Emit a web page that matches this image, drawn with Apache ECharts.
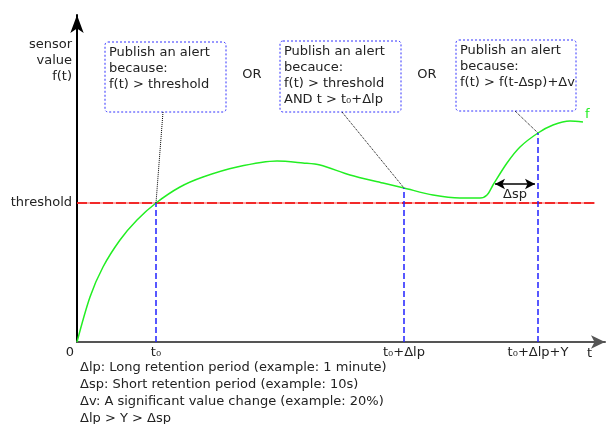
<!DOCTYPE html>
<html>
<head>
<meta charset="utf-8">
<script src="https://cdn.jsdelivr.net/npm/echarts@6/dist/echarts.min.js"></script>
<style>
  html, body { margin: 0; padding: 0; background: #fff; }
  #main { width: 610px; height: 424px; }
</style>
</head>
<body>
<div id="main"></div>
<script>
// curve f(t) (units: 1 = 1px from the origin)
var curveT = [0, 13, 26, 43, 60, 79, 103, 126, 160, 200, 226, 243, 273, 306, 327, 356, 383, 403, 410, 416, 430, 443, 461, 476, 493, 506];
var curveF = [0, 45, 75, 102, 122, 139, 155, 165, 175, 181, 179, 177, 167, 159, 154, 147, 144, 144, 147, 157, 179, 195, 209, 217, 221, 220];
var thresholdValue = 139;
var thresholdEnd = 518;
var markTimes = [79, 327, 461];
var tickLabels = ['t₀', 't₀+Δlp', 't₀+Δlp+Y'];
var deltaSp = [418, 458, 158];
var notes = [
    'Δlp: Long retention period (example: 1 minute)',
    'Δsp: Short retention period (example: 10s)',
    'Δv: A significant value change (example: 20%)',
    'Δlp > Y > Δsp'
];

var myChart = echarts.init(document.getElementById('main'));
var font = 'DejaVu Sans';
var fs = 13;
var txt = '#222';

function valueAt(t) {
    return curveF[curveT.indexOf(t)];
}

// 注释框: 左上角、宽高、文字
function box(x, y, w, h, text) {
    return {
        type: 'group',
        children: [
            {
                type: 'rect',
                shape: { x: x, y: y, width: w, height: h, r: 3 },
                style: { fill: '#fff', stroke: '#3333ff', lineWidth: 1, lineDash: [2, 2] }
            },
            {
                type: 'text',
                x: x + 4,
                y: y + 3,
                style: { text: text, font: fs + 'px "' + font + '"', fill: txt, lineHeight: 16 }
            }
        ]
    };
}

var option = {
    animation: false,
    grid: { left: 77, right: 5, top: 15, bottom: 82 },
    xAxis: {
        type: 'value',
        min: 0,
        max: 528,
        splitLine: { show: false },
        axisTick: { show: false },
        axisLine: {
            lineStyle: { color: '#555', width: 2 },
            symbol: ['none', 'arrow'],
            symbolSize: [10, 14]
        },
        axisLabel: {
            customValues: [0].concat(markTimes),
            margin: 4,
            fontFamily: font,
            fontSize: fs,
            color: txt,
            formatter: function (v) {
                if (v === 0) return '{z|0}';
                return tickLabels[markTimes.indexOf(v)];
            },
            rich: { z: { padding: [0, 14, 0, 0], fontFamily: font, fontSize: fs, color: txt } }
        },
        name: 't',
        nameLocation: 'end',
        nameGap: -18,
        nameTextStyle: { fontFamily: font, fontSize: fs, color: txt, verticalAlign: 'top', padding: [5, 0, 0, 0] }
    },
    yAxis: {
        type: 'value',
        min: 0,
        max: 327,
        splitLine: { show: false },
        axisTick: { show: false },
        axisLine: {
            lineStyle: { color: '#000', width: 2 },
            symbol: ['none', 'arrow'],
            symbolSize: [10, 18]
        },
        axisLabel: {
            customValues: [thresholdValue],
            margin: 5,
            fontFamily: font,
            fontSize: fs,
            color: txt,
            formatter: function () { return 'threshold'; }
        },
        name: 'sensor\nvalue\nf(t)',
        nameLocation: 'end',
        nameGap: -22,
        nameTextStyle: {
            fontFamily: font, fontSize: fs, color: txt,
            align: 'right', verticalAlign: 'top', lineHeight: 16,
            padding: [0, 5, 0, 0]
        }
    },
    graphic: [
        box(105, 42, 121, 70, 'Publish an alert\nbecause:\nf(t) > threshold'),
        box(280, 41, 121, 71, 'Publish an alert\nbecauce:\nf(t) > threshold\nAND t > t₀+Δlp'),
        box(456, 40, 120, 71, 'Publish an alert\nbecause:\nf(t) > f(t-Δsp)+Δv'),
        { type: 'text', x: 252, y: 75, style: { text: 'OR', font: fs + 'px "' + font + '"', fill: txt, align: 'center', verticalAlign: 'middle' } },
        { type: 'text', x: 427, y: 75, style: { text: 'OR', font: fs + 'px "' + font + '"', fill: txt, align: 'center', verticalAlign: 'middle' } },
        { type: 'text', x: 80, y: 359, style: { text: notes.join('\n'), font: fs + 'px "' + font + '"', fill: txt, lineHeight: 17 } }
    ],
    series: [
        {
            name: 'threshold',
            type: 'line',
            data: [[0, thresholdValue], [thresholdEnd, thresholdValue]],
            symbol: 'none',
            silent: true,
            lineStyle: { color: '#ff8888', width: 1.5 }
        },
        {
            name: 'threshold-dash',
            type: 'line',
            data: [[0, thresholdValue], [thresholdEnd, thresholdValue]],
            symbol: 'none',
            silent: true,
            lineStyle: { color: '#ee0000', width: 1.5, type: [10, 3] }
        },
        {
            name: 'f',
            type: 'line',
            data: curveT.map(function (t, i) { return [t, curveF[i]]; }),
            smooth: 0.3,
            symbol: 'none',
            silent: true,
            lineStyle: { color: '#22ee22', width: 1.5 },
            endLabel: {
                show: true,
                formatter: 'f',
                color: '#22ee22',
                fontFamily: font,
                fontSize: fs,
                distance: 2,
                offset: [0, -7]
            },
            z: 3
        },
        {
            name: 'times',
            type: 'line',
            data: [],
            markLine: {
                silent: true,
                symbol: 'none',
                label: { show: false },
                lineStyle: { color: '#2222ff', width: 1.5, type: [6, 3] },
                data: markTimes.map(function (t) {
                    return [{ coord: [t, 0] }, { coord: [t, valueAt(t)] }];
                })
            }
        },
        {
            name: 'leaders',
            type: 'line',
            data: [],
            markLine: {
                silent: true,
                symbol: 'none',
                label: { show: false },
                lineStyle: { color: '#000', width: 1, type: [1, 1] },
                data: [
                    [{ coord: [86, 230] }, { coord: [markTimes[0], valueAt(markTimes[0])] }],
                    [{ coord: [265, 230] }, { coord: [markTimes[1], valueAt(markTimes[1])] }],
                    [{ coord: [438, 231] }, { coord: [markTimes[2], valueAt(markTimes[2])] }]
                ]
            }
        },
        {
            name: 'dsp',
            type: 'line',
            data: [],
            markLine: {
                silent: true,
                symbol: ['arrow', 'arrow'],
                symbolSize: [8, 10],
                lineStyle: { color: '#000', width: 1.5, type: 'solid' },
                label: {
                    show: true,
                    position: 'insideMiddleBottom',
                    formatter: 'Δsp',
                    fontFamily: font,
                    fontSize: fs,
                    color: txt,
                    distance: 4
                },
                data: [[{ coord: [deltaSp[0], deltaSp[2]] }, { coord: [deltaSp[1], deltaSp[2]] }]]
            }
        }
    ]
};

myChart.setOption(option);
</script>
</body>
</html>
